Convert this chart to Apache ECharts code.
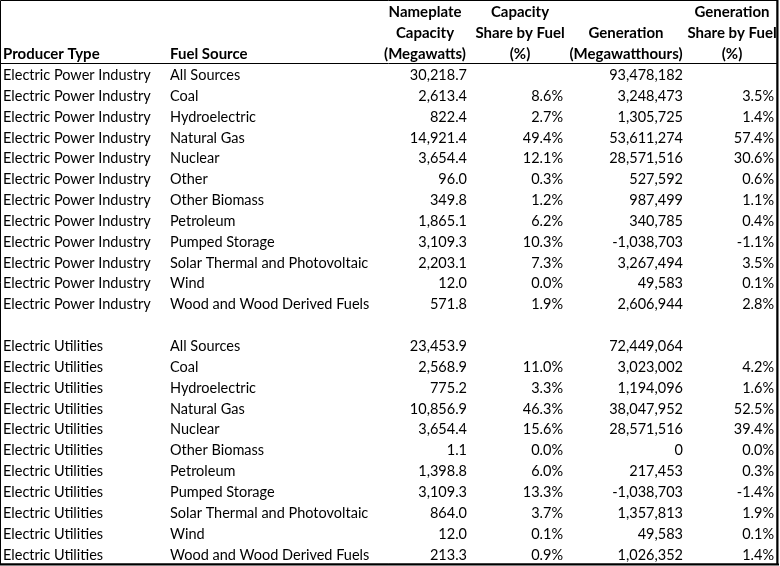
<!DOCTYPE html>
<html>
<head>
<meta charset="utf-8">
<script src="https://cdn.jsdelivr.net/npm/echarts@6/dist/echarts.min.js"></script>
<style>
html,body{margin:0;padding:0;background:#fff;}
#chart{width:780px;height:566px;}
</style>
</head>
<body>
<div id="chart"></div>
<script>
// ---------- DATA ----------
const headerLines = [
  ['', '', 'Nameplate', 'Capacity', '', 'Generation'],
  ['', '', 'Capacity', 'Share by Fuel', 'Generation', 'Share by Fuel'],
  ['Producer Type', 'Fuel Source', '(Megawatts)', '(%)', '(Megawatthours)', '(%)']
];

const producerEPI = 'Electric Power Industry';
const fuelEPI = ['All Sources', 'Coal', 'Hydroelectric', 'Natural Gas', 'Nuclear', 'Other', 'Other Biomass', 'Petroleum', 'Pumped Storage', 'Solar Thermal and Photovoltaic', 'Wind', 'Wood and Wood Derived Fuels'];
const capacityEPI = [30218.7, 2613.4, 822.4, 14921.4, 3654.4, 96.0, 349.8, 1865.1, 3109.3, 2203.1, 12.0, 571.8];
const capShareEPI = [null, 8.6, 2.7, 49.4, 12.1, 0.3, 1.2, 6.2, 10.3, 7.3, 0.0, 1.9];
const generationEPI = [93478182, 3248473, 1305725, 53611274, 28571516, 527592, 987499, 340785, -1038703, 3267494, 49583, 2606944];
const genShareEPI = [null, 3.5, 1.4, 57.4, 30.6, 0.6, 1.1, 0.4, -1.1, 3.5, 0.1, 2.8];

const producerEU = 'Electric Utilities';
const fuelEU = ['All Sources', 'Coal', 'Hydroelectric', 'Natural Gas', 'Nuclear', 'Other Biomass', 'Petroleum', 'Pumped Storage', 'Solar Thermal and Photovoltaic', 'Wind', 'Wood and Wood Derived Fuels'];
const capacityEU = [23453.9, 2568.9, 775.2, 10856.9, 3654.4, 1.1, 1398.8, 3109.3, 864.0, 12.0, 213.3];
const capShareEU = [null, 11.0, 3.3, 46.3, 15.6, 0.0, 6.0, 13.3, 3.7, 0.1, 0.9];
const generationEU = [72449064, 3023002, 1194096, 38047952, 28571516, 0, 217453, -1038703, 1357813, 49583, 1026352];
const genShareEU = [null, 4.2, 1.6, 52.5, 39.4, 0.0, 0.3, -1.4, 1.9, 0.1, 1.4];

// ---------- LAYOUT / STYLE ----------
const FONT_FAMILY = 'Lato, Carlito, Calibri, sans-serif';
const DATA_FONT_SIZE = 14.5;
const HEADER_FONT_SIZE = 15;
const dataCols = [
  {x: 3, align: 'left'},
  {x: 170, align: 'left'},
  {x: 467, align: 'right'},
  {x: 563, align: 'right'},
  {x: 683, align: 'right'},
  {x: 774, align: 'right'}
];
const headerCols = [
  {x: 3, align: 'left'},
  {x: 170, align: 'left'},
  {x: 425, align: 'center'},
  {x: 520, align: 'center'},
  {x: 626, align: 'center'},
  {x: 732, align: 'center'}
];

// ---------- BUILD ----------
const fmtCap = v => v == null ? '' : v.toLocaleString('en-US', {minimumFractionDigits: 1, maximumFractionDigits: 1});
const fmtPct = v => v == null ? '' : v.toFixed(1) + '%';
const fmtGen = v => v == null ? '' : v.toLocaleString('en-US', {maximumFractionDigits: 0});

const rows = [];
let slot = headerLines.length;
function addGroup(prod, fuels, cap, cs, gen, gs) {
  fuels.forEach((f, i) => {
    rows.push({slot: slot++, texts: [prod, f, fmtCap(cap[i]), fmtPct(cs[i]), fmtGen(gen[i]), fmtPct(gs[i])]});
  });
}
addGroup(producerEPI, fuelEPI, capacityEPI, capShareEPI, generationEPI, genShareEPI);
slot++; // blank row
addGroup(producerEU, fuelEU, capacityEU, capShareEU, generationEU, genShareEU);
const totalSlots = slot;
const slotNames = Array.from({length: totalSlots}, (_, i) => 'r' + i);

function makeRender(texts, cols, bold, size, dy) {
  return function (params, api) {
    const idx = params.dataIndexInside;
    const s = api.value(1);
    const line = texts[idx];
    const children = [];
    cols.forEach((c, k) => {
      if (!line[k]) return;
      const p = api.coord([c.x, s]);
      children.push({
        type: 'text',
        style: {
          x: p[0], y: p[1] + dy, text: line[k], textAlign: c.align, textVerticalAlign: 'middle',
          fontFamily: FONT_FAMILY, fontSize: size, fontWeight: bold ? 'bold' : 'normal', fill: '#000'
        }
      });
    });
    return {type: 'group', children};
  };
}

const chart = echarts.init(document.getElementById('chart'), null, {renderer: 'canvas'});
chart.setOption({
  backgroundColor: '#fff',
  animation: false,
  grid: {left: 0, right: 0, top: 1.6, bottom: 1.4},
  xAxis: {type: 'value', min: 0, max: 780, show: false},
  yAxis: {type: 'category', data: slotNames, inverse: true, show: false},
  graphic: [
    {type: 'rect', shape: {x: 0.5, y: 0.5, width: 776.5, height: 563.5}, style: {fill: null, stroke: '#000', lineWidth: 1}, silent: true},
    {type: 'line', shape: {x1: 777.5, y1: 0, x2: 777.5, y2: 565}, style: {stroke: '#000', lineWidth: 2}, silent: true},
    {type: 'line', shape: {x1: 0, y1: 564.5, x2: 779, y2: 564.5}, style: {stroke: '#000', lineWidth: 2}, silent: true},
    {type: 'line', shape: {x1: 0, y1: 63.5, x2: 777, y2: 63.5}, style: {stroke: '#000', lineWidth: 1}, silent: true}
  ],
  series: [
    {
      type: 'custom',
      silent: true,
      data: headerLines.map((l, i) => [0, i]),
      renderItem: makeRender(headerLines, headerCols, true, HEADER_FONT_SIZE, 0)
    },
    {
      type: 'custom',
      silent: true,
      data: rows.map(r => [0, r.slot]),
      renderItem: makeRender(rows.map(r => r.texts), dataCols, false, DATA_FONT_SIZE, 0.7)
    }
  ]
});
</script>
</body>
</html>
